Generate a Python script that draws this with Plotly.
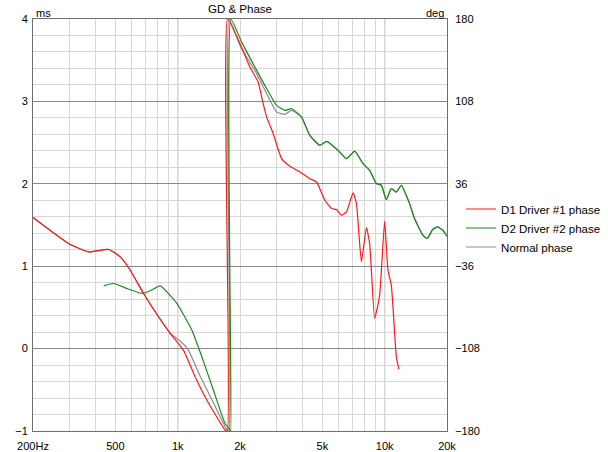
import math
import plotly.graph_objects as go

# ---- data (frequency in Hz, phase in degrees) ----
red_freq = [200, 297, 371, 464, 528, 590, 684, 808, 920, 1066, 1214, 1382, 1693, 1740, 1740,
            2000, 2234, 2450, 2544, 2690, 2894, 3177, 3484, 3892, 4349, 4686, 5138, 5534, 5848,
            6182, 6536, 7032, 7302, 7720, 8158, 8462, 8944, 9455, 9994, 10368, 10766, 11382, 11716]
red_deg = [6.5, -16.2, -23.5, -21.4, -27.9, -39.5, -59.8, -80.2, -94.7, -109.3, -132.6, -152.9, -179.1, -180, 180,
           158.4, 137.9, 124.8, 111.8, 94.3, 79.8, 58, 51.3, 46.3, 40.5, 37.6, 21.6, 14.4, 13.5,
           8.5, 11.4, 28, 18.7, -32.2, -2.2, -16.2, -81.6, -61.3, 3.3, -39.5, -52.6, -115.1, -126.1]

green_freq = [439, 490, 569, 672, 737, 823, 991, 1170, 1308, 1487, 1693, 1790, 1804, 1804,
              2038, 2407, 2690, 3006, 3296, 3550, 3966, 4349, 4860, 5252, 5952, 6536, 7166, 7858,
              8462, 9116, 9636, 10186, 10766, 11382, 12032, 13192, 13942, 15286, 16060, 17090,
              18060, 19092, 20000]
green_deg = [-53.2, -51.1, -55.5, -59.8, -57.5, -53.2, -68.5, -91.8, -115.1, -144.2, -173.3, -179, -180, 180,
             159.8, 135.1, 119.1, 104.5, 100.1, 101.6, 94.3, 78.3, 69.6, 73.1, 65.2, 58, 64.6, 53.6,
             47.8, 36.2, 34.7, 22.2, 31.8, 28.8, 34.7, 18.7, 5.6, -8.9, -11.8, -3.7,
             -1.7, -4.6, -9.8]

gray_freq = [200, 297, 371, 464, 528, 590, 684, 808, 920, 1028, 1127, 1283, 1466, 1731, 1770, 1770,
             2000, 2407, 2690, 3006, 3296, 3550, 3966, 4349, 4860, 5252, 5952, 6536, 7166, 7858,
             8462, 9116, 9636, 10186, 10766, 11382, 12032, 13192, 13942, 15286, 16060, 17090,
             18060, 19092, 20000]
gray_deg = [6.5, -16.2, -23.5, -21.4, -27.9, -39.5, -59.8, -80.2, -94.7, -101.4, -109.3, -132, -152.9, -179.1, -180, 180,
            156.9, 132.2, 114.7, 98.7, 96.7, 100.1, 94.3, 78.3, 69.6, 73.1, 65.2, 58, 64.6, 53.6,
            47.8, 36.2, 34.7, 22.2, 31.8, 28.8, 34.7, 18.7, 5.6, -8.9, -11.8, -3.7,
            -1.7, -4.6, -9.8]

x_tick_vals = [200, 500, 1000, 2000, 5000, 10000, 20000]
x_tick_text = ["200Hz", "500", "1k", "2k", "5k", "10k", "20k"]
x_minor_vals = [300, 400, 600, 700, 800, 900, 3000, 4000, 6000, 7000, 8000, 9000]
x_major_lines = [1000, 10000]
ms_ticks = [-1, 0, 1, 2, 3, 4]
deg_ticks = [-180, -108, -36, 36, 108, 180]

FONT = "Liberation Sans, Arial, sans-serif"
LIGHT = "#d7d7d7"
DARK = "#8a8a8a"
FRAME = "#6e6e6e"
SMOOTH = 0.45

fig = go.Figure()
# empty trace so the primary (ms) axis is drawn
fig.add_trace(go.Scatter(x=[None], y=[None], mode="lines", showlegend=False, hoverinfo="skip"))
fig.add_trace(go.Scatter(x=gray_freq, y=gray_deg, yaxis="y2", mode="lines", name="Normal phase",
                         line=dict(color="#8c8c8c", width=1.2, shape="spline", smoothing=SMOOTH)))
fig.add_trace(go.Scatter(x=green_freq, y=green_deg, yaxis="y2", mode="lines", name="D2 Driver #2 phase",
                         line=dict(color="#1a8a1a", width=1.2, shape="spline", smoothing=SMOOTH)))
fig.add_trace(go.Scatter(x=red_freq, y=red_deg, yaxis="y2", mode="lines", name="D1 Driver #1 phase",
                         line=dict(color="#ff1a1a", width=1.2, shape="spline", smoothing=SMOOTH)))

shapes = [dict(type="line", xref="x", yref="paper", x0=v, x1=v, y0=0, y1=1,
               line=dict(color=DARK, width=1), layer="below") for v in x_major_lines]

fig.update_layout(
    width=608, height=452,
    margin=dict(l=32.5, r=160.5, t=18.5, b=21, autoexpand=False),
    paper_bgcolor="white", plot_bgcolor="white",
    font=dict(family=FONT, size=11, color="#000000"),
    showlegend=True,
    legend=dict(x=1.034, y=0.574, xanchor="left", yanchor="top", traceorder="reversed",
                font=dict(family=FONT, size=11.5, color="#000000"),
                bgcolor="rgba(0,0,0,0)", borderwidth=0, itemwidth=30, tracegroupgap=0),
    xaxis=dict(type="log", range=[math.log10(200), math.log10(20000)], automargin=False,
               tickmode="array", tickvals=x_tick_vals, ticktext=x_tick_text,
               showgrid=True, gridcolor=LIGHT, gridwidth=1,
               minor=dict(tickmode="array", tickvals=x_minor_vals, showgrid=True, gridcolor=LIGHT, gridwidth=1, ticks=""),
               ticks="outside", ticklen=5, tickcolor="rgba(0,0,0,0)",
               showline=True, linecolor=FRAME, linewidth=1, mirror=True, zeroline=False,
               tickfont=dict(family=FONT, size=11, color="#000000")),
    yaxis=dict(range=[-1, 4], tickmode="array", tickvals=ms_ticks, automargin=False,
               showgrid=True, gridcolor=DARK, gridwidth=1,
               minor=dict(dtick=0.2, showgrid=True, gridcolor=LIGHT, gridwidth=1, ticks=""),
               ticks="outside", ticklen=2, tickcolor="rgba(0,0,0,0)",
               showline=True, linecolor=FRAME, linewidth=1, mirror=True, zeroline=False,
               tickfont=dict(family=FONT, size=11, color="#000000")),
    yaxis2=dict(range=[-180, 180], overlaying="y", side="right", tickmode="array", tickvals=deg_ticks,
                automargin=False, showgrid=False, zeroline=False, showline=False,
                ticks="outside", ticklen=5, tickcolor="rgba(0,0,0,0)",
                tickfont=dict(family=FONT, size=11, color="#000000")),
    shapes=shapes,
    annotations=[
        dict(text="GD & Phase", xref="paper", yref="paper", x=0.5, y=1, xanchor="center", yanchor="bottom",
             yshift=2, showarrow=False, font=dict(family=FONT, size=11.5, color="#000000")),
        dict(text="ms", xref="paper", yref="paper", x=0, y=1, xanchor="left", yanchor="bottom",
             xshift=1, yshift=-2, showarrow=False, font=dict(family=FONT, size=11, color="#000000")),
        dict(text="deg", xref="paper", yref="paper", x=1, y=1, xanchor="right", yanchor="bottom",
             xshift=-1, yshift=-2, showarrow=False, font=dict(family=FONT, size=11, color="#000000")),
    ],
)

# remove the default 8px page margin so the figure fills the window exactly
fig.write_html("out.html", config={"displayModeBar": False},
               post_script="document.body.style.margin='0px';")
